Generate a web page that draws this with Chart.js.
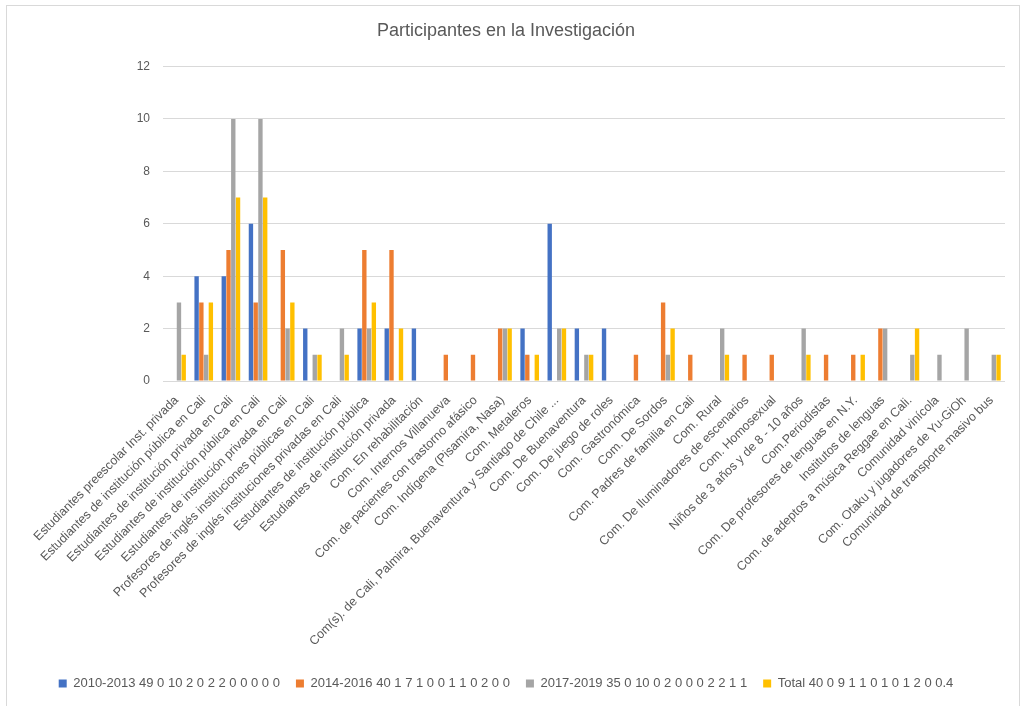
<!DOCTYPE html>
<html lang="es">
<head>
<meta charset="utf-8">
<title>Participantes en la Investigación</title>
<script src="https://cdn.jsdelivr.net/npm/chart.js@4/dist/chart.umd.min.js"></script>
<style>
  html, body { margin: 0; padding: 0; background: #fff; overflow: hidden; }
  .frame { position: absolute; left: 6px; top: 5px; width: 1012px; height: 720px; border: 1px solid #D9D9D9; }
  .frame canvas { display: block; }
</style>
</head>
<body>
<div class="frame"><canvas id="chart" width="1012" height="700"></canvas></div>
<script>
/* Participantes en la Investigación — barras agrupadas por comunidad */
const categories = [
  'Estudiantes preescolar Inst. privada',
  'Estudiantes de institución pública en Cali',
  'Estudiantes de institución privada en Cali',
  'Estudiantes de institución pública en Cali',
  'Estudiantes de institución privada en Cali',
  'Profesores de inglés instituciones públicas en Cali',
  'Profesores de inglés instituciones privadas en Cali',
  'Estudiantes de institución pública',
  'Estudiantes de institución privada',
  'Com. En rehabilitación',
  'Com. Internos Villanueva',
  'Com. de pacientes con trastorno afásico',
  'Com. Indígena (Pisamira, Nasa)',
  'Com. Metaleros',
  'Com(s). de Cali, Palmira, Buenaventura y Santiago de Chile ...',
  'Com. De Buenaventura',
  'Com. De juego de roles',
  'Com. Gastronómica',
  'Com. De Sordos',
  'Com. Padres de familia en Cali',
  'Com. Rural',
  'Com. De Iluminadores de escenarios',
  'Com. Homosexual',
  'Niños de 3 años y de 8 - 10 años',
  'Com.Periodistas',
  'Com. De profesores de lenguas en N.Y.',
  'Institutos de lenguas',
  'Com. de adeptos a música Reggae en Cali.',
  'Comunidad vinícola',
  'Com. Otaku y jugadores de Yu-GiOh',
  'Comunidad de transporte masivo bus'
];

const seriesLabels = [
  '2010-2013 49 0 10 2 0 2 2 0 0 0 0 0',
  '2014-2016 40 1 7 1 0 0 1 1 0 2 0 0',
  '2017-2019 35 0 10 0 2 0 0 0 2 2 1 1',
  'Total 40 0 9 1 1 0 1 0 1 2 0 0.4'
];

const p2010 = [0, 4, 4, 6, 0, 2, 0, 2, 2, 2, 0, 0, 0, 2, 6, 2, 2, 0, 0, 0, 0, 0, 0, 0, 0, 0, 0, 0, 0, 0, 0];
const p2014 = [0, 3, 5, 3, 5, 0, 0, 5, 5, 0, 1, 1, 2, 1, 0, 0, 0, 1, 3, 1, 0, 1, 1, 0, 1, 1, 2, 0, 0, 0, 0];
const p2017 = [3, 1, 10, 10, 2, 1, 2, 2, 0, 0, 0, 0, 2, 0, 2, 1, 0, 0, 1, 0, 2, 0, 0, 2, 0, 0, 2, 1, 1, 2, 1];
const total = [1, 3, 7, 7, 3, 1, 1, 3, 2, 0, 0, 0, 2, 1, 2, 1, 0, 0, 2, 0, 1, 0, 0, 1, 0, 1, 0, 2, 0, 0, 1];

const yTicks = [0, 2, 4, 6, 8, 10, 12];

const colors = ['#4472C4', '#ED7D31', '#A5A5A5', '#FFC000'];
const textColor = '#595959';
const gridColor = '#D9D9D9';

Chart.defaults.font.family = "'Liberation Sans', Arial, sans-serif";
Chart.defaults.color = textColor;

const datasets = [p2010, p2014, p2017, total].map((data, i) => ({
  label: seriesLabels[i],
  data,
  backgroundColor: colors[i],
  borderWidth: 0,
  barPercentage: 0.92,
  categoryPercentage: 0.7
}));

new Chart(document.getElementById('chart'), {
  type: 'bar',
  data: { labels: categories, datasets },
  options: {
    responsive: false,
    animation: false,
    layout: { padding: { left: 0, right: 14, top: 0, bottom: 6 } },
    plugins: {
      title: {
        display: true,
        text: 'Participantes en la Investigación',
        color: textColor,
        font: { size: 18, weight: 'normal' },
        padding: { top: 14, bottom: 25 }
      },
      legend: {
        position: 'bottom',
        labels: { boxWidth: 8, boxHeight: 8, padding: 16, font: { size: 13 }, color: textColor }
      },
      tooltip: { enabled: false }
    },
    scales: {
      x: {
        grid: { display: false },
        border: { display: false },
        ticks: {
          autoSkip: false, minRotation: 45, maxRotation: 45, padding: 4,
          font: { size: 12.5 }, color: textColor
        },
        afterFit: s => { s.height = 280; }
      },
      y: {
        min: 0, max: 12,
        afterBuildTicks: s => { s.ticks = yTicks.map(v => ({ value: v })); },
        grid: { color: gridColor, lineWidth: 1, drawTicks: false },
        border: { display: false },
        ticks: { padding: 13, font: { size: 12 }, color: textColor },
        afterFit: s => { s.width = 156; }
      }
    }
  }
});
</script>
</body>
</html>
